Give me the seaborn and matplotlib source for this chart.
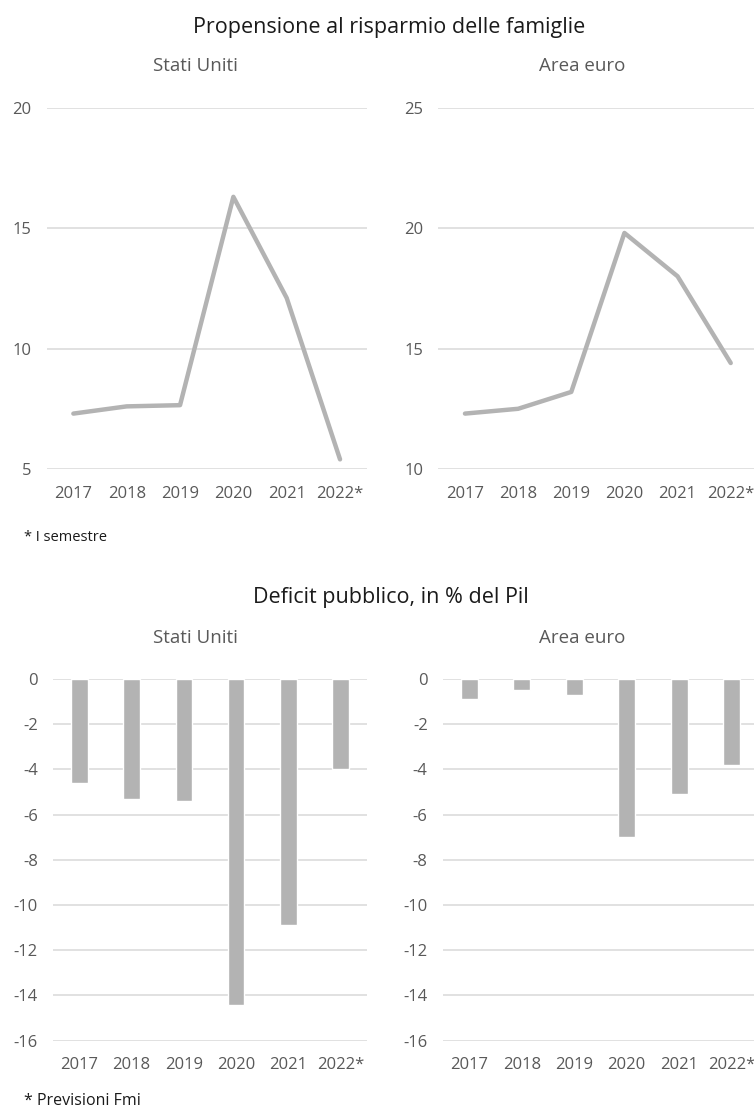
import matplotlib
matplotlib.use("Agg")
import matplotlib.pyplot as plt
import seaborn as sns
import pandas as pd

# Data
years = ["2017", "2018", "2019", "2020", "2021", "2022*"]
saving_us = [7.3, 7.6, 7.65, 16.3, 12.1, 5.4]
saving_ea = [12.3, 12.5, 13.2, 19.8, 18.0, 14.4]
deficit_us = [-4.6, -5.3, -5.4, -14.4, -10.9, -4.0]
deficit_ea = [-0.9, -0.5, -0.7, -7.0, -5.1, -3.8]

sns.set_theme(style="white")
plt.rcParams["font.family"] = ["Open Sans", "DejaVu Sans"]
plt.rcParams["axes.unicode_minus"] = False

W, H = 754, 1113
GREY = "#B3B3B3"
GRID = "#D9D9D9"
TICK = "#595959"

fig = plt.figure(figsize=(W / 100, H / 100), dpi=100)


def box(x0, x1, ytop, ybot):
    return [x0 / W, 1 - ybot / H, (x1 - x0) / W, (ybot - ytop) / H]


def style(ax, ticks, lim):
    ax.set_ylim(*lim)
    ax.set_yticks(ticks)
    ax.set_xlim(-0.5, 5.5)
    ax.yaxis.grid(True, color=GRID, lw=1.1)
    ax.xaxis.grid(False)
    ax.set_axisbelow(True)
    for s in ax.spines.values():
        s.set_visible(False)
    ax.tick_params(axis="both", length=0, labelsize=12, labelcolor=TICK)
    ax.tick_params(axis="y", pad=11)
    ax.tick_params(axis="x", pad=12)
    ax.set_xlabel("")
    ax.set_ylabel("")


# Household saving rate
ax1 = fig.add_axes(box(46.7, 366.7, 107.7, 469))
df1 = pd.DataFrame({"anno": years, "valore": saving_us})
sns.lineplot(data=df1, x="anno", y="valore", ax=ax1, color=GREY, lw=3.2,
             sort=False, solid_capstyle="round")
style(ax1, [5, 10, 15, 20], (5, 20))

ax2 = fig.add_axes(box(438.4, 757.3, 107.7, 469))
df2 = pd.DataFrame({"anno": years, "valore": saving_ea})
sns.lineplot(data=df2, x="anno", y="valore", ax=ax2, color=GREY, lw=3.2,
             sort=False, solid_capstyle="round")
style(ax2, [10, 15, 20, 25], (10, 25))

# Public deficit
ax3 = fig.add_axes(box(53.2, 366.8, 679, 1040.7))
df3 = pd.DataFrame({"anno": years, "valore": deficit_us})
sns.barplot(data=df3, x="anno", y="valore", ax=ax3, color=GREY,
            saturation=1, width=0.32)
style(ax3, list(range(0, -17, -2)), (-16, 0))

ax4 = fig.add_axes(box(443, 758, 679, 1040.7))
df4 = pd.DataFrame({"anno": years, "valore": deficit_ea})
sns.barplot(data=df4, x="anno", y="valore", ax=ax4, color=GREY,
            saturation=1, width=0.32)
style(ax4, list(range(0, -17, -2)), (-16, 0))

# Titles and notes
def ftext(x, y, s, **kw):
    fig.text(x / W, 1 - y / H, s, va="center", **kw)

ftext(389, 28, "Propensione al risparmio delle famiglie", ha="center",
      fontsize=15.5, color="#1A1A1A")
ftext(195, 66, "Stati Uniti", ha="center", fontsize=13.5, color=TICK)
ftext(582, 66, "Area euro", ha="center", fontsize=13.5, color=TICK)
ftext(24, 537, "* I semestre", ha="left", fontsize=10.5, color="#1A1A1A")

ftext(391, 598, "Deficit pubblico, in % del Pil", ha="center",
      fontsize=15.5, color="#1A1A1A")
ftext(195, 638, "Stati Uniti", ha="center", fontsize=13.5, color=TICK)
ftext(582, 638, "Area euro", ha="center", fontsize=13.5, color=TICK)
ftext(24, 1101, "* Previsioni Fmi", ha="left", fontsize=11.5, color="#1A1A1A")

fig.savefig("out.png", dpi=100)
